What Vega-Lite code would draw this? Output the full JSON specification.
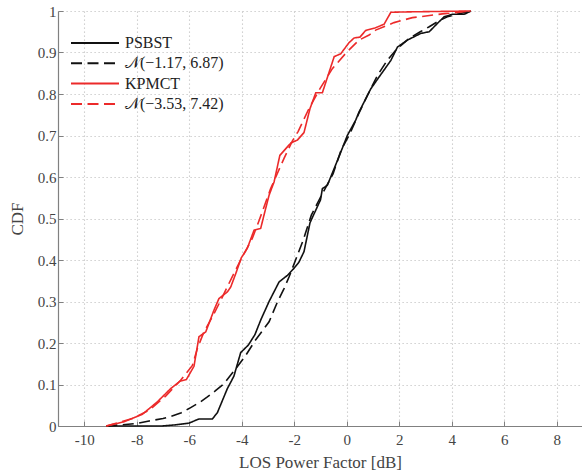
{
  "$schema": "https://vega.github.io/schema/vega-lite/v6.json",
  "width": 524,
  "height": 415,
  "autosize": {"type": "none"},
  "padding": {"left": 58, "top": 11, "right": 0, "bottom": 49},
  "background": "white",
  "config": {
    "view": {"stroke": null},
    "font": "Liberation Serif",
    "axis": {
      "labelFont": "Liberation Serif",
      "titleFont": "Liberation Serif",
      "labelFontSize": 15,
      "titleFontSize": 17,
      "titleFontWeight": "normal",
      "labelColor": "#444",
      "titleColor": "#444",
      "domainColor": "#808080",
      "domainWidth": 1.2,
      "tickColor": "#808080",
      "tickSize": -5,
      "gridColor": "#c4c4c4",
      "gridDash": [1.2, 2.8],
      "gridWidth": 1.1
    },
    "legend": {
      "labelFont": "Liberation Serif",
      "labelFontSize": 16,
      "labelColor": "#222"
    }
  },
  "data": {
    "values": [
      {"series": "PSBST", "x": -9.16, "y": 0},
      {"series": "PSBST", "x": -7.03, "y": 0},
      {"series": "PSBST", "x": -6.5, "y": 0.003},
      {"series": "PSBST", "x": -6.01, "y": 0.007},
      {"series": "PSBST", "x": -5.63, "y": 0.017},
      {"series": "PSBST", "x": -5.12, "y": 0.017},
      {"series": "PSBST", "x": -4.93, "y": 0.032},
      {"series": "PSBST", "x": -4.55, "y": 0.09},
      {"series": "PSBST", "x": -4.3, "y": 0.12},
      {"series": "PSBST", "x": -4.04, "y": 0.177},
      {"series": "PSBST", "x": -3.75, "y": 0.195},
      {"series": "PSBST", "x": -3.5, "y": 0.22},
      {"series": "PSBST", "x": -3.28, "y": 0.255},
      {"series": "PSBST", "x": -2.96, "y": 0.3},
      {"series": "PSBST", "x": -2.58, "y": 0.347},
      {"series": "PSBST", "x": -2.26, "y": 0.363},
      {"series": "PSBST", "x": -2.01, "y": 0.38},
      {"series": "PSBST", "x": -1.82, "y": 0.395},
      {"series": "PSBST", "x": -1.63, "y": 0.42},
      {"series": "PSBST", "x": -1.4, "y": 0.49},
      {"series": "PSBST", "x": -1.0, "y": 0.545},
      {"series": "PSBST", "x": -0.93, "y": 0.572},
      {"series": "PSBST", "x": -0.74, "y": 0.58},
      {"series": "PSBST", "x": -0.29, "y": 0.65},
      {"series": "PSBST", "x": 0.02, "y": 0.7},
      {"series": "PSBST", "x": 0.34, "y": 0.737},
      {"series": "PSBST", "x": 0.47, "y": 0.757},
      {"series": "PSBST", "x": 0.91, "y": 0.812},
      {"series": "PSBST", "x": 1.23, "y": 0.841},
      {"series": "PSBST", "x": 1.68, "y": 0.881},
      {"series": "PSBST", "x": 1.93, "y": 0.913},
      {"series": "PSBST", "x": 2.31, "y": 0.93},
      {"series": "PSBST", "x": 2.82, "y": 0.946},
      {"series": "PSBST", "x": 3.14, "y": 0.95},
      {"series": "PSBST", "x": 3.45, "y": 0.97},
      {"series": "PSBST", "x": 3.71, "y": 0.986},
      {"series": "PSBST", "x": 4.02, "y": 0.992},
      {"series": "PSBST", "x": 4.47, "y": 0.992},
      {"series": "PSBST", "x": 4.73, "y": 1.0},

      {"series": "𝒩(−1.17, 6.87)", "x": -9.16, "y": 0},
      {"series": "𝒩(−1.17, 6.87)", "x": -8.55, "y": 0.003},
      {"series": "𝒩(−1.17, 6.87)", "x": -8.0, "y": 0.006},
      {"series": "𝒩(−1.17, 6.87)", "x": -7.53, "y": 0.012},
      {"series": "𝒩(−1.17, 6.87)", "x": -7.0, "y": 0.018},
      {"series": "𝒩(−1.17, 6.87)", "x": -6.71, "y": 0.023},
      {"series": "𝒩(−1.17, 6.87)", "x": -6.3, "y": 0.032},
      {"series": "𝒩(−1.17, 6.87)", "x": -6.01, "y": 0.042},
      {"series": "𝒩(−1.17, 6.87)", "x": -5.6, "y": 0.057},
      {"series": "𝒩(−1.17, 6.87)", "x": -5.31, "y": 0.07},
      {"series": "𝒩(−1.17, 6.87)", "x": -5.0, "y": 0.085},
      {"series": "𝒩(−1.17, 6.87)", "x": -4.68, "y": 0.102},
      {"series": "𝒩(−1.17, 6.87)", "x": -4.23, "y": 0.138},
      {"series": "𝒩(−1.17, 6.87)", "x": -3.85, "y": 0.17},
      {"series": "𝒩(−1.17, 6.87)", "x": -3.5, "y": 0.205},
      {"series": "𝒩(−1.17, 6.87)", "x": -2.96, "y": 0.251},
      {"series": "𝒩(−1.17, 6.87)", "x": -2.64, "y": 0.299},
      {"series": "𝒩(−1.17, 6.87)", "x": -2.39, "y": 0.331},
      {"series": "𝒩(−1.17, 6.87)", "x": -2.2, "y": 0.359},
      {"series": "𝒩(−1.17, 6.87)", "x": -1.95, "y": 0.4},
      {"series": "𝒩(−1.17, 6.87)", "x": -1.66, "y": 0.448},
      {"series": "𝒩(−1.17, 6.87)", "x": -1.35, "y": 0.508},
      {"series": "𝒩(−1.17, 6.87)", "x": -1.06, "y": 0.544},
      {"series": "𝒩(−1.17, 6.87)", "x": -0.8, "y": 0.575},
      {"series": "𝒩(−1.17, 6.87)", "x": -0.52, "y": 0.608},
      {"series": "𝒩(−1.17, 6.87)", "x": -0.21, "y": 0.666},
      {"series": "𝒩(−1.17, 6.87)", "x": 0.11, "y": 0.703},
      {"series": "𝒩(−1.17, 6.87)", "x": 0.45, "y": 0.752},
      {"series": "𝒩(−1.17, 6.87)", "x": 0.79, "y": 0.797},
      {"series": "𝒩(−1.17, 6.87)", "x": 1.17, "y": 0.845},
      {"series": "𝒩(−1.17, 6.87)", "x": 1.55, "y": 0.882},
      {"series": "𝒩(−1.17, 6.87)", "x": 1.93, "y": 0.91},
      {"series": "𝒩(−1.17, 6.87)", "x": 2.4, "y": 0.935},
      {"series": "𝒩(−1.17, 6.87)", "x": 2.8, "y": 0.95},
      {"series": "𝒩(−1.17, 6.87)", "x": 3.14, "y": 0.962},
      {"series": "𝒩(−1.17, 6.87)", "x": 3.5, "y": 0.976},
      {"series": "𝒩(−1.17, 6.87)", "x": 3.83, "y": 0.986},
      {"series": "𝒩(−1.17, 6.87)", "x": 4.2, "y": 0.992},
      {"series": "𝒩(−1.17, 6.87)", "x": 4.73, "y": 1.0},

      {"series": "KPMCT", "x": -9.16, "y": 0},
      {"series": "KPMCT", "x": -8.49, "y": 0.01},
      {"series": "KPMCT", "x": -7.79, "y": 0.028},
      {"series": "KPMCT", "x": -7.22, "y": 0.058},
      {"series": "KPMCT", "x": -6.71, "y": 0.09},
      {"series": "KPMCT", "x": -6.35, "y": 0.108},
      {"series": "KPMCT", "x": -6.11, "y": 0.112},
      {"series": "KPMCT", "x": -5.82, "y": 0.144},
      {"series": "KPMCT", "x": -5.63, "y": 0.215},
      {"series": "KPMCT", "x": -5.37, "y": 0.227},
      {"series": "KPMCT", "x": -5.06, "y": 0.279},
      {"series": "KPMCT", "x": -4.87, "y": 0.307},
      {"series": "KPMCT", "x": -4.55, "y": 0.323},
      {"series": "KPMCT", "x": -4.42, "y": 0.335},
      {"series": "KPMCT", "x": -4.23, "y": 0.367},
      {"series": "KPMCT", "x": -4.02, "y": 0.405},
      {"series": "KPMCT", "x": -3.79, "y": 0.428},
      {"series": "KPMCT", "x": -3.53, "y": 0.472},
      {"series": "KPMCT", "x": -3.28, "y": 0.476},
      {"series": "KPMCT", "x": -3.09, "y": 0.524},
      {"series": "KPMCT", "x": -2.96, "y": 0.556},
      {"series": "KPMCT", "x": -2.77, "y": 0.588},
      {"series": "KPMCT", "x": -2.55, "y": 0.652},
      {"series": "KPMCT", "x": -2.13, "y": 0.682},
      {"series": "KPMCT", "x": -1.88, "y": 0.689},
      {"series": "KPMCT", "x": -1.63, "y": 0.707},
      {"series": "KPMCT", "x": -1.4, "y": 0.765},
      {"series": "KPMCT", "x": -1.18, "y": 0.803},
      {"series": "KPMCT", "x": -0.93, "y": 0.803},
      {"series": "KPMCT", "x": -0.48, "y": 0.89},
      {"series": "KPMCT", "x": -0.23, "y": 0.897},
      {"series": "KPMCT", "x": 0.09, "y": 0.924},
      {"series": "KPMCT", "x": 0.28, "y": 0.935},
      {"series": "KPMCT", "x": 0.5, "y": 0.937},
      {"series": "KPMCT", "x": 0.72, "y": 0.953},
      {"series": "KPMCT", "x": 1.07, "y": 0.959},
      {"series": "KPMCT", "x": 1.42, "y": 0.968},
      {"series": "KPMCT", "x": 1.68, "y": 0.997},
      {"series": "KPMCT", "x": 2.45, "y": 0.998},
      {"series": "KPMCT", "x": 4.73, "y": 1.0},

      {"series": "𝒩(−3.53, 7.42)", "x": -9.16, "y": 0},
      {"series": "𝒩(−3.53, 7.42)", "x": -8.17, "y": 0.018},
      {"series": "𝒩(−3.53, 7.42)", "x": -7.53, "y": 0.038},
      {"series": "𝒩(−3.53, 7.42)", "x": -6.9, "y": 0.072},
      {"series": "𝒩(−3.53, 7.42)", "x": -6.33, "y": 0.11},
      {"series": "𝒩(−3.53, 7.42)", "x": -5.88, "y": 0.146},
      {"series": "𝒩(−3.53, 7.42)", "x": -5.69, "y": 0.187},
      {"series": "𝒩(−3.53, 7.42)", "x": -5.44, "y": 0.227},
      {"series": "𝒩(−3.53, 7.42)", "x": -5.12, "y": 0.263},
      {"series": "𝒩(−3.53, 7.42)", "x": -4.8, "y": 0.303},
      {"series": "𝒩(−3.53, 7.42)", "x": -4.36, "y": 0.36},
      {"series": "𝒩(−3.53, 7.42)", "x": -4.0, "y": 0.405},
      {"series": "𝒩(−3.53, 7.42)", "x": -3.6, "y": 0.452},
      {"series": "𝒩(−3.53, 7.42)", "x": -3.34, "y": 0.495},
      {"series": "𝒩(−3.53, 7.42)", "x": -2.9, "y": 0.572},
      {"series": "𝒩(−3.53, 7.42)", "x": -2.39, "y": 0.645},
      {"series": "𝒩(−3.53, 7.42)", "x": -2.07, "y": 0.687},
      {"series": "𝒩(−3.53, 7.42)", "x": -1.85, "y": 0.71},
      {"series": "𝒩(−3.53, 7.42)", "x": -1.44, "y": 0.765},
      {"series": "𝒩(−3.53, 7.42)", "x": -1.02, "y": 0.813},
      {"series": "𝒩(−3.53, 7.42)", "x": -0.55, "y": 0.861},
      {"series": "𝒩(−3.53, 7.42)", "x": 0.0, "y": 0.901},
      {"series": "𝒩(−3.53, 7.42)", "x": 0.47, "y": 0.93},
      {"series": "𝒩(−3.53, 7.42)", "x": 0.85, "y": 0.942},
      {"series": "𝒩(−3.53, 7.42)", "x": 1.1, "y": 0.954},
      {"series": "𝒩(−3.53, 7.42)", "x": 1.8, "y": 0.972},
      {"series": "𝒩(−3.53, 7.42)", "x": 2.5, "y": 0.984},
      {"series": "𝒩(−3.53, 7.42)", "x": 3.64, "y": 0.993},
      {"series": "𝒩(−3.53, 7.42)", "x": 4.73, "y": 1.0}
    ]
  },
  "mark": {"type": "line", "strokeWidth": 1.6},
  "encoding": {
    "x": {
      "field": "x",
      "type": "quantitative",
      "scale": {"domain": [-11, 8.96], "nice": false, "zero": false},
      "axis": {
        "title": "LOS Power Factor [dB]",
        "values": [-10, -8, -6, -4, -2, 0, 2, 4, 6, 8],
        "labelExpr": "'' + datum.value",
        "labelPadding": 11,
        "titlePadding": 7
      }
    },
    "y": {
      "field": "y",
      "type": "quantitative",
      "scale": {"domain": [0, 1], "nice": false},
      "axis": {
        "title": "CDF",
        "values": [0, 0.1, 0.2, 0.3, 0.4, 0.5, 0.6, 0.7, 0.8, 0.9, 1],
        "labelExpr": "'' + datum.value",
        "labelPadding": 7,
        "titlePadding": 11
      }
    },
    "color": {
      "field": "series",
      "type": "nominal",
      "scale": {
        "domain": ["PSBST", "𝒩(−1.17, 6.87)", "KPMCT", "𝒩(−3.53, 7.42)"],
        "range": ["#111111", "#111111", "#ec2a2a", "#ec2a2a"]
      },
      "legend": {
        "title": null,
        "orient": "none",
        "legendX": 26,
        "legendY": 21,
        "symbolType": "M-2.4,0H2.4",
        "symbolSize": 400,
        "symbolStrokeWidth": 2,
        "labelOffset": 19,
        "rowPadding": 1.3,
        "padding": 0
      }
    },
    "strokeDash": {
      "field": "series",
      "type": "nominal",
      "scale": {
        "domain": ["PSBST", "𝒩(−1.17, 6.87)", "KPMCT", "𝒩(−3.53, 7.42)"],
        "range": [[1, 0], [11, 5.5], [1, 0], [11, 5.5]]
      },
      "legend": {
        "title": null,
        "orient": "none",
        "legendX": 26,
        "legendY": 21,
        "symbolType": "M-2.4,0H2.4",
        "symbolSize": 400,
        "symbolStrokeWidth": 2,
        "labelOffset": 19,
        "rowPadding": 1.3,
        "padding": 0
      }
    }
  }
}
